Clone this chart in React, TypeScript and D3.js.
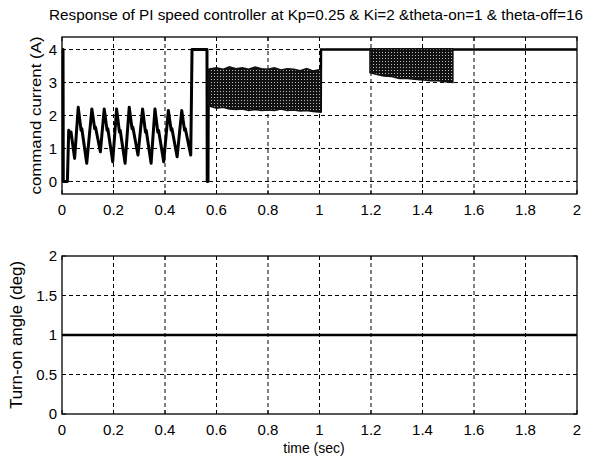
import React from "react";
import * as d3 from "d3";

const titleText = "Response of PI speed controller at Kp=0.25 & Ki=2 &theta-on=1 & theta-off=16";
const timeTicks = [0, 0.2, 0.4, 0.6, 0.8, 1, 1.2, 1.4, 1.6, 1.8, 2];
const currentTicks = [0, 1, 2, 3, 4];
const angleTicks = [0, 0.5, 1, 1.5, 2];

// startup + sawtooth section of the command current [time, value]
const startupTrace: [number, number][] = [
  [0, 4], [0.004, 4], [0.005, 0], [0.021, 0], [0.026, 1.55], [0.031, 1.35], [0.035, 1.5], [0.049, 0.7],
  [0.063, 2.25], [0.074, 1.55], [0.077, 1.6], [0.096, 0.55],
  [0.116, 2.2], [0.127, 1.6], [0.13, 1.65], [0.149, 0.9],
  [0.164, 2.2], [0.175, 1.55], [0.178, 1.6], [0.197, 0.6],
  [0.212, 2.2], [0.223, 1.5], [0.226, 1.55], [0.245, 0.55],
  [0.261, 2.25], [0.272, 1.6], [0.275, 1.65], [0.295, 0.8],
  [0.313, 2.2], [0.324, 1.5], [0.327, 1.55], [0.346, 0.55],
  [0.361, 2.2], [0.372, 1.5], [0.375, 1.55], [0.395, 0.6],
  [0.413, 2.15], [0.424, 1.55], [0.427, 1.6], [0.447, 0.75],
  [0.465, 2.15], [0.476, 1.55], [0.479, 1.6], [0.5, 0.8],
  [0.505, 4], [0.563, 4], [0.564, 0], [0.567, 0], [0.568, 2.3],
];

// saturated section after the first band
const saturatedTrace: [number, number][] = [
  [1.005, 2.1], [1.006, 4], [2, 4],
];

// dense oscillation bands (envelopes)
const band1Time = [0.568, 0.6, 0.625, 0.65, 0.675, 0.7, 0.725, 0.75, 0.775, 0.8, 0.825, 0.85, 0.875, 0.9, 0.925, 0.95, 0.975, 1.005];
const band1Upper = [3.4, 3.45, 3.4, 3.48, 3.42, 3.45, 3.4, 3.47, 3.42, 3.4, 3.45, 3.38, 3.42, 3.4, 3.36, 3.42, 3.35, 3.4];
const band1Lower = [2.3, 2.22, 2.25, 2.2, 2.18, 2.2, 2.15, 2.18, 2.15, 2.17, 2.15, 2.2, 2.15, 2.17, 2.14, 2.15, 2.12, 2.1];

const band2Time = [1.196, 1.22, 1.25, 1.28, 1.31, 1.34, 1.37, 1.4, 1.43, 1.46, 1.49, 1.518];
const band2Upper = [4.02, 4.02, 4.02, 4.02, 4.02, 4.02, 4.02, 4.02, 4.02, 4.02, 4.02, 4.02];
const band2Lower = [3.3, 3.25, 3.2, 3.18, 3.12, 3.12, 3.1, 3.08, 3.05, 3.05, 3.02, 3.0];

// turn-on angle
const angleTrace: [number, number][] = [[0, 1], [2, 1]];

const FONT = "'Liberation Sans', Arial, Helvetica, sans-serif";

const W = 596, H = 461;
const left = 62, right = 577;
const top1 = 37, bot1 = 194;
const top2 = 256, bot2 = 414;

export default function App() {
  const x = d3.scaleLinear().domain([0, 2]).range([left, right]);
  const y1 = d3.scaleLinear().domain([-0.38, 4.38]).range([bot1, top1]);
  const y2 = d3.scaleLinear().domain([0, 2]).range([bot2, top2]);

  const line1 = d3.line<[number, number]>().x((d) => x(d[0])).y((d) => y1(d[1]));
  const line2 = d3.line<[number, number]>().x((d) => x(d[0])).y((d) => y2(d[1]));

  const area1 = d3.area<number>()
    .x((_, i) => x(band1Time[i]))
    .y0((_, i) => y1(band1Lower[i]))
    .y1((_, i) => y1(band1Upper[i]));
  const area2 = d3.area<number>()
    .x((_, i) => x(band2Time[i]))
    .y0((_, i) => y1(band2Lower[i]))
    .y1((_, i) => y1(band2Upper[i]));

  const dash = "4,3";

  const panel = (
    yScale: d3.ScaleLinear<number, number>,
    yTicks: number[],
    top: number,
    bot: number,
    key: string
  ) => (
    <g key={key}>
      {timeTicks.slice(1, -1).map((t) => (
        <line key={"v" + t} x1={x(t)} x2={x(t)} y1={top} y2={bot} stroke="#000" strokeWidth={1} strokeDasharray={dash} />
      ))}
      {yTicks.filter((v) => Math.abs(yScale(v) - top) > 2 && Math.abs(yScale(v) - bot) > 2).map((v) => (
        <line key={"h" + v} x1={left} x2={right} y1={yScale(v)} y2={yScale(v)} stroke="#000" strokeWidth={1} strokeDasharray={dash} />
      ))}
      {timeTicks.map((t) => (
        <g key={"tk" + t}>
          <line x1={x(t)} x2={x(t)} y1={bot} y2={bot - 4} stroke="#000" strokeWidth={1} />
          <line x1={x(t)} x2={x(t)} y1={top} y2={top + 4} stroke="#000" strokeWidth={1} />
        </g>
      ))}
      {yTicks.map((v) => (
        <g key={"ytk" + v}>
          <line x1={left} x2={left + 4} y1={yScale(v)} y2={yScale(v)} stroke="#000" strokeWidth={1} />
          <line x1={right} x2={right - 4} y1={yScale(v)} y2={yScale(v)} stroke="#000" strokeWidth={1} />
          <text x={57} y={yScale(v)} dy="0.36em" textAnchor="end" fontSize={15} fontFamily={FONT} fill="#000">
            {String(v)}
          </text>
        </g>
      ))}
      {timeTicks.map((t) => (
        <text key={"xl" + t} x={x(t)} y={bot + 21} textAnchor="middle" fontSize={15} fontFamily={FONT} fill="#000">
          {String(t)}
        </text>
      ))}
    </g>
  );

  return (
    <div style={{ position: "absolute", left: 0, top: 0 }}>
      <svg width={W} height={H} viewBox={`0 0 ${W} ${H}`} style={{ display: "block", background: "#fff" }}>
        <defs>
          <pattern id="stipple" width="3" height="3" patternUnits="userSpaceOnUse">
            <rect width="3" height="3" fill="#111" />
            <rect x="1" y="1" width="1" height="1" fill="#bbb" />
          </pattern>
        </defs>
        <rect width={W} height={H} fill="#fff" />
        <text x={316} y={20} textAnchor="middle" fontSize={14} fontFamily={FONT} fill="#000" textLength={534} lengthAdjust="spacingAndGlyphs">
          {titleText}
        </text>

        {panel(y1, currentTicks, top1, bot1, "p1")}
        {panel(y2, angleTicks, top2, bot2, "p2")}

        {/* top panel data */}
        <path d={line1(startupTrace) ?? ""} fill="none" stroke="#000" strokeWidth={3} strokeLinejoin="round" />
        <path d={line1(saturatedTrace) ?? ""} fill="none" stroke="#000" strokeWidth={2.4} />
        <path d={area1(band1Time) ?? ""} fill="url(#stipple)" stroke="#111" strokeWidth={1.5} />
        <path d={area2(band2Time) ?? ""} fill="url(#stipple)" stroke="#111" strokeWidth={1.5} />

        {/* bottom panel data */}
        <path d={line2(angleTrace) ?? ""} fill="none" stroke="#000" strokeWidth={2.5} />

        {/* frames */}
        <rect x={left} y={top1} width={right - left} height={bot1 - top1} fill="none" stroke="#000" strokeWidth={1.3} />
        <rect x={left} y={top2} width={right - left} height={bot2 - top2} fill="none" stroke="#000" strokeWidth={1.3} />

        {/* axis labels */}
        <text transform={`translate(41,${(top1 + bot1) / 2}) rotate(-90)`} textAnchor="middle" fontSize={15} fontFamily={FONT} fill="#000" textLength={158} lengthAdjust="spacingAndGlyphs">
          command current (A)
        </text>
        <text transform={`translate(22,${(top2 + bot2) / 2}) rotate(-90)`} textAnchor="middle" fontSize={16} fontFamily={FONT} fill="#000" textLength={148} lengthAdjust="spacingAndGlyphs">
          Turn-on angle (deg)
        </text>
        <text x={314} y={453} textAnchor="middle" fontSize={14} fontFamily={FONT} fill="#000">
          time (sec)
        </text>
      </svg>
    </div>
  );
}
